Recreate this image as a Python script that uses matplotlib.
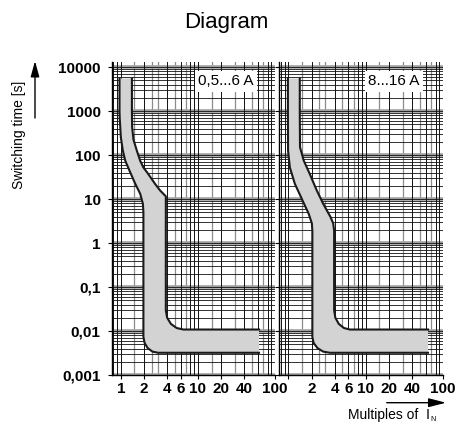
import matplotlib.pyplot as plt

plt.rcParams['font.family'] = ['Liberation Sans', 'DejaVu Sans']

# axis ticks and labels
y_ticks = [0.001, 0.01, 0.1, 1, 10, 100, 1000, 10000]
y_labels = ['0,001', '0,01', '0,1', '1', '10', '100', '1000', '10000']
x_ticks = [1, 2, 4, 6, 10, 20, 40, 100]
x_labels_left = ['1', '2', '4', '6', '10', '20', '40', '100']
x_labels_right = ['', '2', '4', '6', '10', '20', '40', '100']

# chart paper lines
grid_x_black = [0.8, 0.9, 1, 2, 4, 6, 8, 9, 10, 20, 40, 60, 80, 90, 100]
grid_x_gray = [1.5, 2.5, 3, 5, 7, 15, 30, 50, 70]
grid_y_black = [k * 10.0 ** d for d in range(-3, 5) for k in range(1, 10)]
grid_y_gray = [0.001, 0.01, 0.1, 1, 10, 100, 1000, 10000]

# 0,5...6 A band: lower (left) and upper (right) limit, multiples of I_N vs seconds
left_lo_I = [0.96, 0.96, 0.965, 1.0, 1.06, 1.14, 1.29, 1.53, 1.78, 1.93, 1.96,
             1.96, 2.03, 2.23, 2.57, 3.04, 62]
left_lo_t = [5500, 1000, 700, 250, 126, 74, 44.6, 22.5, 13.2, 7.8, 5,
             0.00736, 0.00535, 0.00408, 0.0034, 0.0032, 0.0032]
left_up_I = [1.39, 1.39, 1.40, 1.457, 1.61, 1.78, 1.96, 2.21, 2.78, 3.23, 3.83,
             3.83, 3.98, 4.46, 5.29, 6.47, 62]
left_up_t = [5500, 1000, 423, 223, 126, 74, 52, 39.4, 22, 15.6, 11.5,
             0.0296, 0.0201, 0.0145, 0.0117, 0.0108, 0.0108]

# 8...16 A band
right_lo_I = [0.99, 0.99, 0.995, 1.05, 1.22, 1.53, 1.84, 2.02, 2.05,
              2.05, 2.13, 2.39, 2.83, 3.45, 64]
right_lo_t = [5500, 1000, 126, 52, 22, 9.3, 4.6, 2.8, 1.9,
              0.00736, 0.00535, 0.00408, 0.0034, 0.0032, 0.0032]
right_up_I = [1.41, 1.41, 1.42, 1.59, 1.9, 2.34, 2.83, 3.52, 3.81, 3.92,
              3.92, 4.06, 4.50, 5.24, 6.26, 64]
right_up_t = [5500, 1000, 150, 74, 37, 15.6, 7.8, 3.9, 2.8, 1.9,
              0.0296, 0.0201, 0.0145, 0.0117, 0.0108, 0.0108]


def draw_panel(ax, lo_I, lo_t, up_I, up_t, xlabels, label, show_y):
    ax.set_xscale('log')
    ax.set_yscale('log')
    ax.set_xlim(0.76, 100)
    ax.set_ylim(0.001, 13000)
    for x in grid_x_gray:
        ax.axvline(x, color='#8c8c8c', lw=0.9, zorder=1)
    for y in grid_y_gray:
        ax.axhline(y, color='#a0a0a0', lw=2.6, zorder=1)
    for x in grid_x_black:
        ax.axvline(x, color='#111111', lw=0.7, zorder=1.5)
    for y in grid_y_black:
        ax.axhline(y, color='#111111', lw=0.6, zorder=1.5)

    # shaded band between the two limit curves
    poly_I = lo_I + up_I[::-1]
    poly_t = lo_t + up_t[::-1]
    ax.fill(poly_I, poly_t, color='#d3d3d3', lw=0, zorder=3)
    ax.plot(lo_I, lo_t, color='#1a1a1a', lw=1.5, zorder=4)
    ax.plot(up_I, up_t, color='#1a1a1a', lw=1.5, zorder=4)

    ax.text(0.70, 0.938, label, transform=ax.transAxes, fontsize=11,
            ha='center', va='center', zorder=5,
            bbox=dict(boxstyle='square,pad=0.22', fc='white', ec='none'))

    for s in ['top', 'right']:
        ax.spines[s].set_visible(False)
    ax.spines['left'].set_linewidth(1.0)
    ax.spines['bottom'].set_linewidth(1.0)

    ax.set_xticks(x_ticks)
    ax.set_xticklabels(xlabels, fontsize=11, fontweight='bold')
    ax.xaxis.set_minor_locator(plt.NullLocator())
    ax.yaxis.set_minor_locator(plt.NullLocator())
    ax.set_yticks(y_ticks)
    if show_y:
        ax.set_yticklabels(y_labels, fontsize=11, fontweight='bold')
    else:
        ax.set_yticklabels([])
    ax.tick_params(axis='x', length=3, width=0.8, pad=2)
    ax.tick_params(axis='y', length=3, width=0.8, pad=5)


fig = plt.figure(figsize=(4.59, 4.29), dpi=100)
ax1 = fig.add_axes([111.7 / 459, 1 - 375 / 429, 163.3 / 459, 313 / 429])
ax2 = fig.add_axes([279 / 459, 1 - 375 / 429, 164 / 459, 313 / 429])

draw_panel(ax1, left_lo_I, left_lo_t, left_up_I, left_up_t, x_labels_left, '0,5...6 A', True)
draw_panel(ax2, right_lo_I, right_lo_t, right_up_I, right_up_t, x_labels_right, '8...16 A', False)

fig.text(226 / 459, 1 - 28.3 / 429, 'Diagram', fontsize=16, ha='center', va='baseline')

# axis titles with arrows
fig.text(19 / 459, 1 - 135 / 429, 'Switching time [s]', fontsize=10,
         rotation=90, ha='center', va='center')
ax1.annotate('', xy=(35 / 459, 1 - 61 / 429), xytext=(35 / 459, 1 - 118 / 429),
             xycoords='figure fraction', textcoords='figure fraction',
             arrowprops=dict(arrowstyle='-|>,head_length=0.95,head_width=0.26',
                             color='black', lw=1.0, shrinkA=0, shrinkB=0),
             annotation_clip=False)
ax2.annotate('', xy=(446 / 459, 1 - 402.7 / 429), xytext=(386.7 / 459, 1 - 402.7 / 429),
             xycoords='figure fraction', textcoords='figure fraction',
             arrowprops=dict(arrowstyle='-|>,head_length=1.05,head_width=0.27',
                             color='black', lw=1.0, shrinkA=0, shrinkB=0),
             annotation_clip=False)

fig.text(348 / 459, 1 - 419.3 / 429, 'Multiples of  I', fontsize=10, ha='left', va='baseline')
fig.text(430 / 459, 1 - 421 / 429, 'N', fontsize=5, ha='left', va='baseline')

fig.savefig('out.png', dpi=100)
